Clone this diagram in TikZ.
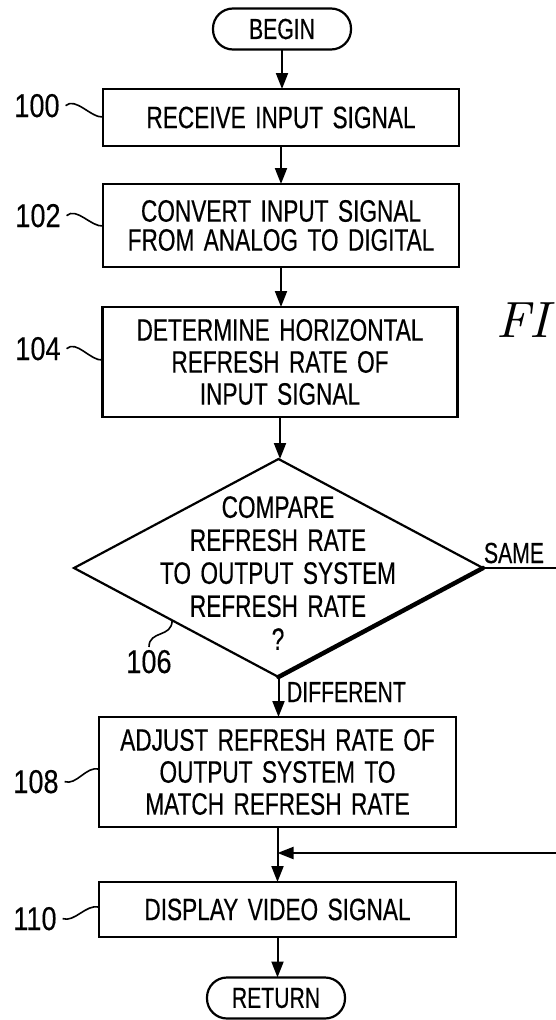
\documentclass[tikz,border=0pt]{standalone}
\usepackage{fontspec}
\setmainfont{Liberation Sans}
\newfontfamily\flowfont[FakeStretch=0.73,FakeBold=0.4,WordSpace=1.5]{Liberation Sans}
\newfontfamily\numfont[FakeStretch=0.82,FakeBold=0.3]{Liberation Sans}
\newfontfamily\titlefont{Latin Modern Roman}
\usetikzlibrary{arrows.meta,shapes.geometric,calc}

\begin{document}
\begin{tikzpicture}[x=1pt,y=-1pt,
  every node/.style={inner sep=0pt, outer sep=0pt},
  stepbox/.style={draw, line width=2.2pt, rectangle, align=center,
    font=\flowfont\fontsize{31}{32}\selectfont},
  term/.style={draw, line width=2.2pt, rounded corners=20pt,
    minimum width=138pt, minimum height=41pt,
    font=\flowfont\fontsize{29}{29}\selectfont},
  decision/.style={draw, diamond, line width=2.2pt},
  qtext/.style={align=center, font=\flowfont\fontsize{31}{33}\selectfont},
  flow/.style={line width=2pt, -{Triangle[length=16pt,width=12pt]}},
  wire/.style={line width=2pt},
  lead/.style={line width=1.6pt},
  reflab/.style={anchor=base, font=\numfont\fontsize{33}{33}\selectfont},
  branch/.style={anchor=base west, font=\flowfont\fontsize{29}{29}\selectfont},
]
\fill[white] (0,0) rectangle (556,1020);
\useasboundingbox (0,0) rectangle (556,1020);

% process steps
\node[term] (begin) at (282,29) {BEGIN};
\node[stepbox, minimum width=356pt, minimum height=57pt] (s100) at (281,117.5)
  {RECEIVE INPUT SIGNAL};
\node[stepbox, minimum width=356pt, minimum height=83pt] (s102) at (281,225.5)
  {CONVERT INPUT SIGNAL\\[-3pt]FROM ANALOG TO DIGITAL};
\node[stepbox, minimum width=355pt, minimum height=110pt] (s104) at (280,362)
  {DETERMINE HORIZONTAL\\REFRESH RATE OF\\INPUT SIGNAL};
\node[decision, minimum width=409pt, minimum height=218pt] (d106) at (278.5,568) {};
\node[qtext] (q106) at (278,573)
  {COMPARE\\REFRESH RATE\\TO OUTPUT SYSTEM\\REFRESH RATE\\?};
\node[stepbox, minimum width=357pt, minimum height=110pt] (s108) at (277.5,772)
  {ADJUST REFRESH RATE OF\\OUTPUT SYSTEM TO\\MATCH REFRESH RATE};
\node[stepbox, minimum width=357pt, minimum height=55pt] (s110) at (277.5,909.5)
  {DISPLAY VIDEO SIGNAL};
\node[term] (return) at (276,998) {RETURN};

% shadow edge of the decision
\draw[line width=4.5pt, line cap=round] (d106.east) -- (d106.south);

% main flow
\draw[flow] (begin.south) -- (begin.south |- s100.north);
\draw[flow] (s100.south) -- (s100.south |- s102.north);
\draw[flow] (s102.south) -- (s102.south |- s104.north);
\draw[flow] (s104.south) -- (s104.south |- d106.north);
\draw[flow] (d106.south) -- (d106.south |- s108.north);
\draw[flow] (s108.south) -- (s108.south |- s110.north);
\draw[flow] (s110.south) -- (s110.south |- return.north);

% SAME branch leaving and re-entering at the right
\coordinate (sameout) at (560,568);
\coordinate (samein) at (560,853);
\coordinate (join) at (s108.south |- samein);
\draw[wire] (d106.east) -- (sameout);
\draw[flow] (samein) -- (join);

\node[branch] (same) at (484,563) {SAME};
\node[branch] (diff) at (287,702) {DIFFERENT};

% reference numerals with leaders
\node[reflab] (n100) at (37,117) {100};
\node[reflab] (n102) at (38,227) {102};
\node[reflab] (n104) at (38,360) {104};
\node[reflab] (n106) at (149,673) {106};
\node[reflab] (n108) at (36,793) {108};
\node[reflab] (n110) at (35,930) {110};

\draw[lead] ([xshift=6pt]n100.east) .. controls +(10,-9) and +(-12,1) .. (s100.west |- 0,117);
\draw[lead] ([xshift=6pt]n102.east) .. controls +(10,-9) and +(-12,1) .. (s102.west |- 0,226);
\draw[lead] ([xshift=6pt]n104.east) .. controls +(10,-9) and +(-12,1) .. (s104.west |- 0,360);
\coordinate (e106) at ($(d106.west)!0.48!(d106.south)$);
\draw[lead] ([yshift=3pt]n106.north) .. controls (149,630) and (172,638) .. (e106);
\draw[lead] ([xshift=6pt]n108.east) .. controls +(12,4) and +(-13,-3) .. (s108.west |- 0,769);
\draw[lead] ([xshift=6pt]n110.east) .. controls +(12,4) and +(-13,-3) .. (s110.west |- 0,907);

% figure title
\node[anchor=base west, scale=5.1, font=\titlefont\itshape\fontsize{10}{10}\selectfont] (figtitle) at (496,337) {FI};
\end{tikzpicture}
\end{document}
